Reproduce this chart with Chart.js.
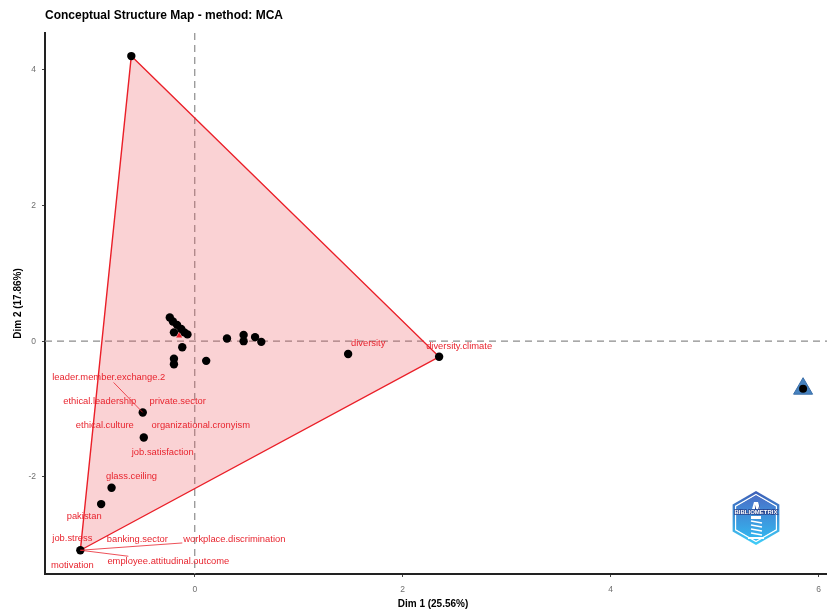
<!DOCTYPE html>
<html>
<head>
<meta charset="utf-8">
<script src="https://cdn.jsdelivr.net/npm/chart.js@4.4.1/dist/chart.umd.min.js"></script>
<style>
  html, body { margin: 0; padding: 0; background: #fff; overflow: hidden; }
  #wrap { width: 827px; height: 616px; position: relative; }
  #csMap { display: block; }
</style>
</head>
<body>
<div id="wrap"><canvas id="csMap"></canvas></div>
<script>
// MCA word coordinates, cluster 1
const dim1 = [-0.61, 2.35, -1.10, 1.475, -0.50, -0.49, -0.80, -0.90,
  -0.24, -0.21, -0.17, -0.13, -0.10, -0.07, -0.20, -0.12, -0.20, -0.20,
  0.11, 0.31, 0.47, 0.47, 0.58, 0.64];
const dim2 = [4.20, -0.23, -3.08, -0.19, -1.05, -1.42, -2.16, -2.40,
  0.35, 0.29, 0.24, 0.18, 0.13, 0.10, 0.13, -0.09, -0.26, -0.34,
  -0.29, 0.04, 0.09, 0.00, 0.06, -0.01];

// cluster centroids
const centroidX = [-0.15];
const centroidY = [0.08];
const cluster2X = [5.85];
const cluster2Y = [-0.70];

// word labels and the point each one belongs to
const labelText = [
  "leader.member.exchange.2", "ethical.leadership", "private.sector",
  "ethical.culture", "organizational.cronyism", "job.satisfaction",
  "glass.ceiling", "pakistan",
  "job.stress", "banking.sector", "workplace.discrimination", "motivation", "employee.attitudinal.outcome",
  "diversity", "diversity.climate"
];
const labelPoint = [4, 4, 4, 5, 5, 5, 6, 7, 2, 2, 2, 2, 2, 3, 1];

const xTicks = [0, 2, 4, 6];
const yTicks = [-2, 0, 2, 4];
const xRange = [-1.44, 6.08];
const yRange = [-3.43, 4.54];

// repel offsets (px) of each label from its point, and whether a segment is drawn
const labelOffset = [[-34, -35], [-43, -11], [35, -11], [-39, -12], [57, -12], [19, 15],
  [20, -11], [-17, 12], [-8, -12], [57, -11], [154, -11], [-8, 15], [88, 11], [20, -11], [20, -10]];
const labelSegment = [true, false, false, false, false, false, false, false,
  false, false, true, false, true, false, false];

const RED = "#e8252f";
const FONT = "'Liberation Sans', Arial, sans-serif";

const points = dim1.map((x, i) => ({ x, y: dim2[i] }));

// convex hull (monotone chain) around the cluster
function hull(pts) {
  const p = pts.slice().sort((a, b) => a.x - b.x || a.y - b.y);
  const cross = (o, a, b) => (a.x - o.x) * (b.y - o.y) - (a.y - o.y) * (b.x - o.x);
  const lower = [], upper = [];
  for (const q of p) {
    while (lower.length >= 2 && cross(lower[lower.length - 2], lower[lower.length - 1], q) <= 0) lower.pop();
    lower.push(q);
  }
  for (let i = p.length - 1; i >= 0; i--) {
    const q = p[i];
    while (upper.length >= 2 && cross(upper[upper.length - 2], upper[upper.length - 1], q) <= 0) upper.pop();
    upper.push(q);
  }
  upper.pop(); lower.pop();
  const h = lower.concat(upper);
  h.push(h[0]);
  return h;
}

const zeroLines = {
  id: "zeroLines",
  beforeDatasetsDraw(chart) {
    const { ctx, chartArea, scales } = chart;
    const x0 = scales.x.getPixelForValue(0);
    const y0 = scales.y.getPixelForValue(0);
    ctx.save();
    ctx.strokeStyle = "#8c8c8c";
    ctx.lineWidth = 1.2;
    ctx.setLineDash([7, 5]);
    ctx.beginPath();
    ctx.moveTo(x0, chartArea.top);
    ctx.lineTo(x0, chartArea.bottom);
    ctx.moveTo(chartArea.left, y0);
    ctx.lineTo(chartArea.right, y0);
    ctx.stroke();
    ctx.restore();
  }
};

const wordLabels = {
  id: "wordLabels",
  afterDatasetsDraw(chart) {
    const { ctx, scales } = chart;
    ctx.save();
    ctx.font = "9.4px " + FONT;
    ctx.textAlign = "center";
    ctx.textBaseline = "middle";
    labelText.forEach((txt, i) => {
      const k = labelPoint[i];
      const px = scales.x.getPixelForValue(dim1[k]);
      const py = scales.y.getPixelForValue(dim2[k]);
      const cx = px + labelOffset[i][0];
      const cy = py + labelOffset[i][1];
      if (labelSegment[i]) {
        const hw = ctx.measureText(txt).width / 2 + 1, hh = 5;
        const dx = px - cx, dy = py - cy;
        const t = Math.min(hw / Math.abs(dx || 1e-6), hh / Math.abs(dy || 1e-6));
        ctx.strokeStyle = RED;
        ctx.lineWidth = 0.8;
        ctx.beginPath();
        ctx.moveTo(cx + dx * t, cy + dy * t);
        ctx.lineTo(px, py);
        ctx.stroke();
      }
      ctx.fillStyle = RED;
      ctx.fillText(txt, cx, cy);
    });
    ctx.restore();
  }
};

function hexPath(ctx, cx, cy, r) {
  ctx.beginPath();
  for (let i = 0; i < 6; i++) {
    const a = Math.PI / 180 * (60 * i - 90);
    const x = cx + r * Math.cos(a), y = cy + r * Math.sin(a);
    if (i === 0) ctx.moveTo(x, y); else ctx.lineTo(x, y);
  }
  ctx.closePath();
}

const frame = {
  id: "frame",
  afterDraw(chart) {
    const { ctx, chartArea } = chart;
    ctx.save();
    // title
    ctx.fillStyle = "#000";
    ctx.font = "bold 12px " + FONT;
    ctx.textAlign = "left";
    ctx.textBaseline = "alphabetic";
    ctx.fillText("Conceptual Structure Map - method: MCA", 45, 19);
    // axis titles
    ctx.font = "bold 10px " + FONT;
    ctx.textAlign = "center";
    ctx.textBaseline = "middle";
    ctx.fillText("Dim 1 (25.56%)", (chartArea.left + chartArea.right) / 2 - 3, 604);
    ctx.translate(18, (chartArea.top + chartArea.bottom) / 2);
    ctx.rotate(-Math.PI / 2);
    ctx.fillText("Dim 2 (17.86%)", 0, 0);
    ctx.restore();

    // bibliometrix badge
    const cx = 756, cy = 518;
    ctx.save();
    let g = ctx.createLinearGradient(0, cy - 28, 0, cy + 28);
    g.addColorStop(0, "#3d5cb6");
    g.addColorStop(1, "#3fd0fa");
    hexPath(ctx, cx, cy, 27);
    ctx.fillStyle = g;
    ctx.fill();
    hexPath(ctx, cx, cy, 23.5);
    ctx.strokeStyle = "#ffffff";
    ctx.lineWidth = 1.3;
    ctx.stroke();
    g = ctx.createLinearGradient(0, cy - 22, 0, cy + 22);
    g.addColorStop(0, "#4a70c8");
    g.addColorStop(1, "#32b8f0");
    hexPath(ctx, cx, cy, 22.5);
    ctx.fillStyle = g;
    ctx.fill();
    // lighthouse
    ctx.fillStyle = "#ffffff";
    ctx.beginPath();
    ctx.moveTo(cx - 2, cy - 16);
    ctx.lineTo(cx + 2, cy - 16);
    ctx.lineTo(cx + 4, cy - 9);
    ctx.lineTo(cx - 4, cy - 9);
    ctx.closePath();
    ctx.fill();
    ctx.fillStyle = "#ffffff";
    ctx.strokeStyle = "#27408a";
    ctx.lineWidth = 1.5;
    ctx.font = "bold 6px " + FONT;
    ctx.textAlign = "center";
    ctx.textBaseline = "middle";
    ctx.strokeText("BIBLIOMETRIX", cx, cy - 6);
    ctx.fillText("BIBLIOMETRIX", cx, cy - 6);
    ctx.fillRect(cx - 5, cy - 2, 10, 3);
    ctx.strokeStyle = "#ffffff";
    ctx.lineWidth = 1.6;
    for (let i = 0; i < 4; i++) {
      const y = cy + 3 + i * 4;
      ctx.beginPath();
      ctx.moveTo(cx - 5, y);
      ctx.lineTo(cx + 6, y + 2);
      ctx.stroke();
    }
    ctx.fillRect(cx - 8, cy + 19, 16, 2);
    ctx.restore();
  }
};

new Chart(document.getElementById("csMap"), {
  type: "scatter",
  data: {
    datasets: [
      {
        data: centroidX.map((x, i) => ({ x, y: centroidY[i] })),
        pointStyle: "triangle",
        pointRadius: 3.5,
        backgroundColor: "#e8202a",
        borderColor: "#e8202a",
        borderWidth: 0,
        order: 0
      },
      {
        data: cluster2X.map((x, i) => ({ x, y: cluster2Y[i] })),
        pointStyle: "circle",
        pointRadius: 4,
        backgroundColor: "#000",
        borderWidth: 0,
        order: 0
      },
      {
        data: cluster2X.map((x, i) => ({ x, y: cluster2Y[i] })),
        pointStyle: "triangle",
        pointRadius: 11,
        backgroundColor: "#4682bf",
        borderColor: "#3a6ea8",
        borderWidth: 1,
        order: 1
      },
      {
        data: points,
        pointRadius: 4.2,
        backgroundColor: "#000",
        borderWidth: 0,
        order: 1
      },
      {
        data: hull(points),
        showLine: true,
        fill: "shape",
        tension: 0,
        pointRadius: 0,
        borderColor: "#ea1f28",
        borderWidth: 1.4,
        backgroundColor: "rgba(236, 80, 88, 0.26)",
        order: 2
      }
    ]
  },
  options: {
    responsive: true,
    maintainAspectRatio: false,
    animation: false,
    layout: { autoPadding: false, padding: { top: 33, left: 0, right: 0, bottom: 0 } },
    plugins: {
      legend: { display: false },
      tooltip: { enabled: false }
    },
    scales: {
      x: {
        type: "linear",
        min: xRange[0],
        max: xRange[1],
        afterBuildTicks: (s) => { s.ticks = xTicks.map((v) => ({ value: v })); },
        afterFit: (s) => { s.height = 42; s.paddingLeft = 0; s.paddingRight = 0; },
        grid: { display: true, drawOnChartArea: false, drawTicks: true, tickLength: 3, color: "#444" },
        border: { display: true, color: "#222", width: 2 },
        ticks: { color: "#6f6f6f", font: { size: 8.5, family: FONT }, padding: 8, maxRotation: 0 }
      },
      y: {
        type: "linear",
        min: yRange[0],
        max: yRange[1],
        afterBuildTicks: (s) => { s.ticks = yTicks.map((v) => ({ value: v })); },
        afterFit: (s) => { s.width = 45; s.paddingTop = 0; s.paddingBottom = 0; },
        grid: { display: true, drawOnChartArea: false, drawTicks: true, tickLength: 3, color: "#444" },
        border: { display: true, color: "#222", width: 2 },
        ticks: { color: "#6f6f6f", font: { size: 8.5, family: FONT }, padding: 6 }
      }
    }
  },
  plugins: [zeroLines, wordLabels, frame]
});
</script>
</body>
</html>
